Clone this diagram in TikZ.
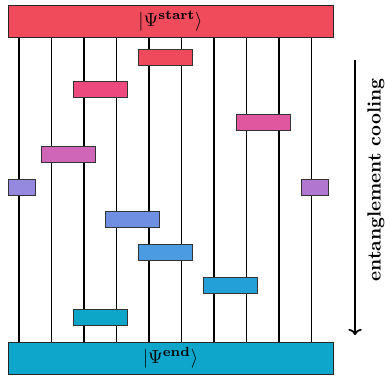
\documentclass[tikz,border=0pt]{standalone}
\usetikzlibrary{arrows.meta}
\definecolor{cstart}{HTML}{EF4B5B}
\definecolor{cga}{HTML}{EE4A5B}
\definecolor{cgb}{HTML}{EC4A7E}
\definecolor{cgc}{HTML}{E0569F}
\definecolor{cgd}{HTML}{CF66B8}
\definecolor{cge}{HTML}{9489DF}
\definecolor{cgf}{HTML}{B176CF}
\definecolor{cgg}{HTML}{6F90E2}
\definecolor{cgh}{HTML}{4A9BE1}
\definecolor{cgi}{HTML}{22A0D7}
\definecolor{cgj}{HTML}{0EA6C8}
\definecolor{cend}{HTML}{0EA6CB}
\begin{document}
\begin{tikzpicture}[x=0.526pt,y=-0.526pt,
  gate/.style={draw=black!80,line width=0.45pt,minimum width=28.4pt,minimum height=8.4pt,inner sep=0pt},
  single/.style={gate,minimum width=14.2pt},
  state/.style={draw=black!85,line width=0.45pt,minimum width=171pt,minimum height=16.8pt,inner sep=0pt},
  wire/.style={line width=0.95pt}]
\useasboundingbox (0,0) rectangle (385,378);
% wire positions
\foreach \i/\x in {1/19,2/51.5,3/84,4/116.5,5/149,6/181.5,7/214,8/246.5,9/279,10/311.5}
  \coordinate (w\i) at (\x,0);
\node[state,fill=cstart] (start) at (170.5,21.3) {$|\Psi^{\mathbf{start}}\rangle$};
\node[state,fill=cend] (end) at (170.5,358) {$|\Psi^{\mathbf{end}}\rangle$};
\foreach \i in {1,...,10}
  \draw[wire] (start.south -| w\i) -- (end.north -| w\i);
\node[gate,fill=cga] (g1) at (165,57) {};
\node[gate,fill=cgb] (g2) at (100,89.3) {};
\node[gate,fill=cgc] (g3) at (263,122) {};
\node[gate,fill=cgd] (g4) at (68,154.3) {};
\node[single,fill=cge] (g5) at (21.5,187) {};
\node[single,fill=cgf] (g6) at (314.5,187) {};
\node[gate,fill=cgg] (g7) at (132.5,219.5) {};
\node[gate,fill=cgh] (g8) at (165,252.3) {};
\node[gate,fill=cgi] (g9) at (230.3,285) {};
\node[gate,fill=cgj] (g10) at (100,317.5) {};
\coordinate (atop) at (355,60);
\coordinate (abot) at (355,335);
\draw[line width=0.9pt,-{To[length=3.2pt,width=7pt]}] (atop) -- (abot);
\node[rotate=90,font=\bfseries,inner sep=0pt] (lab) at (376,180) {entanglement cooling};
\end{tikzpicture}
\end{document}
